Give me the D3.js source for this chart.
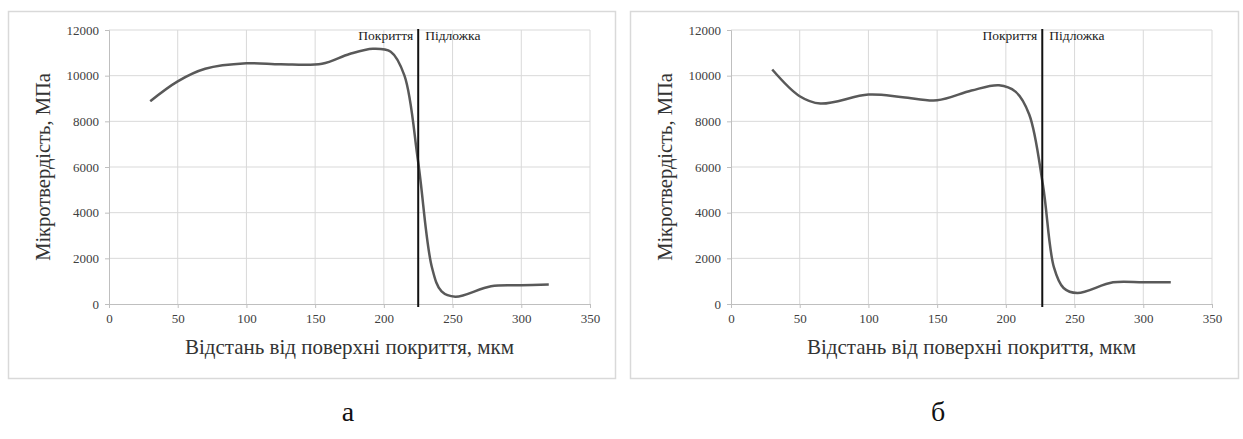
<!DOCTYPE html>
<html>
<head>
<meta charset="utf-8">
<script src="https://cdn.jsdelivr.net/npm/d3@7"></script>
<style>
  body { margin: 0; background: #fff; }
  svg text { font-family: "Liberation Serif", "DejaVu Serif", serif; }
</style>
</head>
<body>
<svg id="chart" width="1243" height="439"></svg>
<script>
// hardness profiles: distance (мкм) and microhardness (МПа)
const dist_a = [30, 50, 70, 100, 125, 155, 175, 192, 205, 215, 225, 235, 242, 252, 278, 300, 320];
const hard_a = [8880, 9750, 10300, 10540, 10500, 10520, 10950, 11180, 11050, 10000, 6200, 1600, 550, 320, 780, 820, 850];

const dist_b = [30, 50, 65, 100, 125, 150, 175, 195, 207, 217, 227, 235, 242, 252, 278, 300, 320];
const hard_b = [10270, 9100, 8780, 9170, 9060, 8920, 9350, 9580, 9300, 8300, 5200, 1600, 700, 480, 950, 950, 950];

const boundary = [225, 226.5];
const x_ticks = [0, 50, 100, 150, 200, 250, 300, 350];
const y_ticks = [0, 2000, 4000, 6000, 8000, 10000, 12000];
const captions = ['а', 'б'];

const x_title = 'Відстань від поверхні покриття, мкм';
const y_title = 'Мікротвердість, МПа';

(function() {
    const svg = d3.select('#chart');
    const serif = '"Liberation Serif", "DejaVu Serif", serif';

    const panels = [
        {left: 8, frame_w: 607, plot_x: 109, dist: dist_a, hard: hard_a, line: boundary[0], caption: captions[0], cap_x: 348},
        {left: 630, frame_w: 608, plot_x: 731, dist: dist_b, hard: hard_b, line: boundary[1], caption: captions[1], cap_x: 938}
    ];

    const plot_w = 481, top = 30, bottom = 304;

    panels.forEach(function(p) {
        const g = svg.append('g');

        g.append('rect')
            .attr('x', p.left + 0.5)
            .attr('y', 11.5)
            .attr('width', p.frame_w)
            .attr('height', 367)
            .attr('fill', '#fff')
            .attr('stroke', '#d9d9d9')
            .attr('stroke-width', 1.5);

        const x = d3.scaleLinear().domain([0, 350]).range([p.plot_x, p.plot_x + plot_w]);
        const y = d3.scaleLinear().domain([0, 12000]).range([bottom, top]);

        // gridlines
        g.append('g').selectAll('line')
            .data(x_ticks.slice(1))
            .enter().append('line')
            .attr('x1', (d) => x(d)).attr('x2', (d) => x(d))
            .attr('y1', top).attr('y2', bottom)
            .attr('stroke', '#d9d9d9').attr('stroke-width', 1);

        g.append('g').selectAll('line')
            .data(y_ticks.slice(1))
            .enter().append('line')
            .attr('x1', x(0)).attr('x2', x(350))
            .attr('y1', (d) => y(d)).attr('y2', (d) => y(d))
            .attr('stroke', '#d9d9d9').attr('stroke-width', 1);

        // axes
        const xa = g.append('g')
            .attr('transform', 'translate(0,' + bottom + ')')
            .call(d3.axisBottom(x).tickValues(x_ticks).tickSize(4).tickPadding(6).tickFormat(d3.format('d')));
        const ya = g.append('g')
            .attr('transform', 'translate(' + p.plot_x + ',0)')
            .call(d3.axisLeft(y).tickValues(y_ticks).tickSize(4).tickPadding(6).tickFormat(d3.format('d')));

        [xa, ya].forEach(function(a) {
            a.attr('font-family', null);
            a.select('.domain').attr('stroke', '#bfbfbf');
            a.selectAll('.tick line').attr('stroke', '#bfbfbf');
            a.selectAll('.tick text')
                .attr('fill', '#404040')
                .style('font-family', serif)
                .style('font-size', '13px');
        });

        // the profile
        const pts = p.dist.map((d, i) => [d, p.hard[i]]);
        const line = d3.line()
            .x((d) => x(d[0]))
            .y((d) => y(d[1]))
            .curve(d3.curveCatmullRom.alpha(0.5));

        g.append('path').datum(pts)
            .attr('fill', 'none')
            .attr('stroke', '#595959')
            .attr('stroke-width', 2.5)
            .attr('stroke-linejoin', 'round')
            .attr('d', line);

        // coating / substrate boundary
        g.append('line')
            .attr('x1', x(p.line)).attr('x2', x(p.line))
            .attr('y1', top - 1).attr('y2', bottom + 3)
            .attr('stroke', '#111').attr('stroke-width', 2);

        g.append('text')
            .attr('x', x(p.line) - 5)
            .attr('y', 40)
            .attr('text-anchor', 'end')
            .style('font-size', '13.5px')
            .attr('fill', '#222')
            .text('Покриття');

        g.append('text')
            .attr('x', x(p.line) + 7)
            .attr('y', 40)
            .style('font-size', '13.5px')
            .attr('fill', '#222')
            .text('Підложка');

        // axis titles
        g.append('text')
            .attr('x', x(175))
            .attr('y', 354)
            .attr('text-anchor', 'middle')
            .style('font-size', '21px')
            .attr('fill', '#333')
            .text(x_title);

        g.append('text')
            .attr('transform', 'translate(' + (p.plot_x - 59) + ',' + y(6000) + ') rotate(-90)')
            .attr('text-anchor', 'middle')
            .style('font-size', '20.5px')
            .attr('fill', '#333')
            .text(y_title);

        // panel caption below the frame
        svg.append('text')
            .attr('x', p.cap_x)
            .attr('y', 421)
            .attr('text-anchor', 'middle')
            .style('font-size', '28px')
            .attr('fill', '#111')
            .text(p.caption);
    });
}());
</script>
</body>
</html>
